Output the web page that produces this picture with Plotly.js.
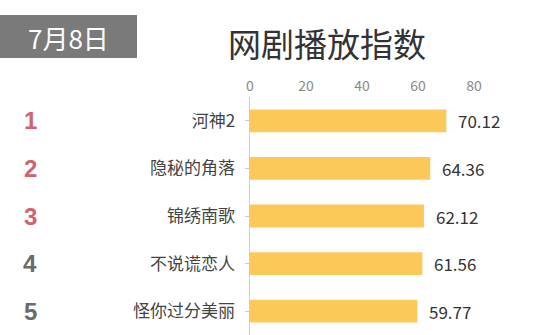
<!DOCTYPE html>
<html><head><meta charset="utf-8">
<script src="https://cdn.plot.ly/plotly-3.0.1.min.js"></script>
<style>html,body{margin:0;padding:0;background:#fff}#c{width:550px;height:335px}</style>
</head><body><div id="c"></div>
<script>
const categories = ["河神2","隐秘的角落","锦绣南歌","不说谎恋人","怪你过分美丽"];
const values = [70.12, 64.36, 62.12, 61.56, 59.77];
const ranks = ["1","2","3","4","5"];
const rankColors = ["#d0636d","#d0636d","#d0636d","#6b6b6b","#6b6b6b"];
const tickVals = [0,20,40,60,80];
const dateLabel = "7月8日";
const titleText = "网剧播放指数";

const font = "'Noto Sans CJK SC', 'Microsoft YaHei', sans-serif";
const ml = 250, mr = 20, mt = 97, mb = 0, W = 550, H = 335;
const pw = W - ml - mr, ph = H - mt - mb;
const px = x => (x - ml) / pw;          // page x -> paper x
const py = y => 1 + (mt - y) / ph;      // page y -> paper y

const data = [{
  type: "bar", orientation: "h",
  y: categories, x: values,
  marker: {color: "#fcc85a"},
  width: 0.48,
  hoverinfo: "none"
}];
const annotations = [];
ranks.forEach((r, i) => annotations.push({
  x: px(30), xref: "paper", xanchor: "center", y: categories[i], yref: "y",
  text: "<b>" + r + "</b>", showarrow: false,
  font: {family: "Arial, sans-serif", size: 24, color: rankColors[i]}
}));
values.forEach((v, i) => annotations.push({
  x: v, xref: "x", xanchor: "left", xshift: 10, y: categories[i], yref: "y",
  text: v.toFixed(2), showarrow: false,
  font: {family: font, size: 17, color: "#333"}
}));
annotations.push({
  x: px(68), xref: "paper", y: py(37), yref: "paper",
  text: dateLabel, showarrow: false, xanchor: "center", yanchor: "middle",
  font: {family: font, size: 26, color: "#fff"}
});
annotations.push({
  x: px(327), xref: "paper", y: py(43), yref: "paper",
  text: titleText, showarrow: false, xanchor: "center", yanchor: "middle",
  font: {family: font, size: 33, color: "#333"}
});
const layout = {
  width: W, height: H,
  margin: {l: ml, r: mr, t: mt, b: mb},
  paper_bgcolor: "#fff", plot_bgcolor: "#fff",
  showlegend: false,
  xaxis: {
    side: "top", range: [0, 100], tickvals: tickVals, ticktext: tickVals.map(String),
    showgrid: false, zeroline: false, showline: false, ticks: "",
    tickfont: {family: font, size: 14, color: "#888"}, ticklabelstandoff: 2
  },
  yaxis: {
    autorange: "reversed", type: "category",
    showline: true, linecolor: "#ccc", linewidth: 1.5,
    ticks: "outside", ticklen: 4, tickcolor: "#ccc",
    showgrid: false, zeroline: false,
    tickfont: {family: font, size: 17, color: "#444"}, ticklabelstandoff: 6
  },
  shapes: [{
    type: "rect", xref: "paper", yref: "paper",
    x0: px(0), x1: px(137), y0: py(58), y1: py(15),
    fillcolor: "#7a7a7a", line: {width: 0}, layer: "below"
  }],
  annotations: annotations
};
Plotly.newPlot("c", data, layout, {staticPlot: true, displayModeBar: false});
</script></body></html>
